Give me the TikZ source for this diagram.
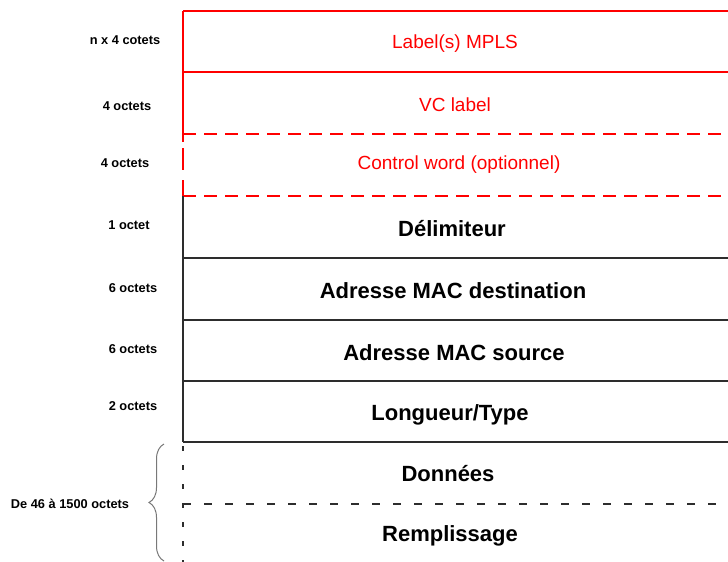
\documentclass[tikz,border=0pt]{standalone}
\usepackage{fontspec}
\setmainfont{Liberation Sans}
\usetikzlibrary{decorations.pathreplacing}
\definecolor{lred}{RGB}{255,0,0}
\definecolor{lgray}{RGB}{45,45,45}
\definecolor{bgray}{RGB}{120,120,120}
\begin{document}
\begin{tikzpicture}[x=1pt,y=-1pt,
  redline/.style={draw=lred,line width=1.8pt},
  blkline/.style={draw=lgray,line width=1.8pt},
  reddash/.style={redline,dash pattern=on 13pt off 8pt},
  reddashv/.style={redline,dash pattern=on 8pt off 6pt on 22pt off 10pt on 20pt off 10pt},
  blkdash/.style={blkline,dash pattern=on 8pt off 13pt},
  blkdashv/.style={blkline,dash pattern=on 5pt off 14pt,dash phase=-4pt},
  redtxt/.style={anchor=base,inner sep=0pt,text=lred,font=\fontsize{19}{22}\selectfont},
  blktxt/.style={anchor=base,inner sep=0pt,text=black,font=\fontsize{22}{26}\selectfont\bfseries},
  sizetxt/.style={anchor=base,inner sep=0pt,text=black,font=\fontsize{12.8}{15}\selectfont\bfseries},
]
\useasboundingbox (0,0) rectangle (728,562);
\fill[white] (0,0) rectangle (728,562);
% coordinates
\coordinate (tl) at (183,11);   \coordinate (tr) at (728,11);
\coordinate (l1) at (183,72);   \coordinate (r1) at (728,72);
\coordinate (l2) at (183,134);  \coordinate (r2) at (728,134);
\coordinate (l3) at (183,196);  \coordinate (r3) at (728,196);
\coordinate (l4) at (183,258);  \coordinate (r4) at (728,258);
\coordinate (l5) at (183,320);  \coordinate (r5) at (728,320);
\coordinate (l6) at (183,381);  \coordinate (r6) at (728,381);
\coordinate (l7) at (183,442);  \coordinate (r7) at (728,442);
\coordinate (l8) at (183,504);  \coordinate (r8) at (728,504);
\coordinate (lb) at (183,562);
% red part
\draw[redline] (tl) -- (tr);
\draw[redline] (l1) -- (r1);
\draw[redline] (tl) -- (l2);
\draw[reddash] (l2) -- (r2);
\draw[reddashv] (l2) -- (l3);
\draw[reddash] (l3) -- (r3);
% black part
\draw[blkline] (l3) -- (l7);
\draw[blkline] (l4) -- (r4);
\draw[blkline] (l5) -- (r5);
\draw[blkline] (l6) -- (r6);
\draw[blkline] (l7) -- (r7);
\draw[blkdashv] (l7) -- (lb);
\draw[blkdash] (l8) -- (r8);
% field texts
\node[redtxt] (mpls) at (455,48) {Label(s) MPLS};
\node[redtxt] (vc) at (455,111) {VC label};
\node[redtxt] (cw) at (459,169) {Control word (optionnel)};
\node[blktxt] (delim) at (452,236) {Délimiteur};
\node[blktxt] (macd) at (453,298) {Adresse MAC destination};
\node[blktxt] (macs) at (454,360) {Adresse MAC source};
\node[blktxt] (ltype) at (450,420) {Longueur/Type};
\node[blktxt] (data) at (448,481) {Données};
\node[blktxt] (pad) at (450,541) {Remplissage};
% size labels
\node[sizetxt] (s1) at (125,44) {n x 4 cotets};
\node[sizetxt] (s2) at (127,110) {4 octets};
\node[sizetxt] (s3) at (125,167) {4 octets};
\node[sizetxt] (s4) at (129,229) {1 octet};
\node[sizetxt] (s5) at (133,292) {6 octets};
\node[sizetxt] (s6) at (133,353) {6 octets};
\node[sizetxt] (s7) at (133,410) {2 octets};
\node[sizetxt] (s8) at (70,508) {De 46 à 1500 octets};
% brace
\coordinate (bb) at (164,561);
\coordinate (bt) at (164,444);
\draw[bgray,line width=1pt,decorate,decoration={brace,amplitude=15pt,aspect=0.5}] (bb) -- (bt);
\end{tikzpicture}
\end{document}
